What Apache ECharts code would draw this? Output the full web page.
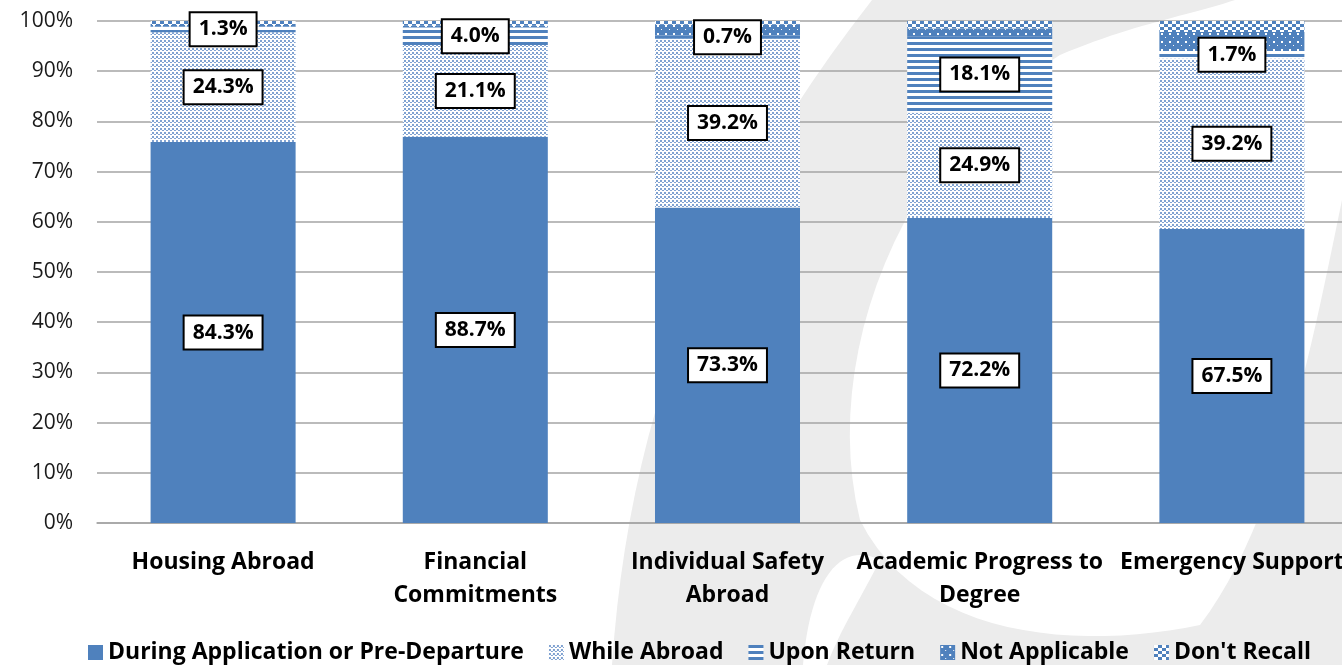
<!DOCTYPE html>
<html>
<head>
<meta charset="utf-8">
<script src="https://cdn.jsdelivr.net/npm/echarts@6/dist/echarts.min.js"></script>
<style>
  html, body { margin: 0; padding: 0; background: #fff; }
  #chart { width: 1342px; height: 665px; }
</style>
</head>
<body>
<div id="chart"></div>
<script>
// values are % of respondents (multiple answers allowed), bars are drawn as 100% stacks
const categories    = ['Housing Abroad', 'Financial\nCommitments', 'Individual Safety\nAbroad', 'Academic Progress to\nDegree', 'Emergency Support']
const seriesNames   = ['During Application or Pre-Departure', 'While Abroad', 'Upon Return', 'Not Applicable', "Don't Recall"]
const duringApp     = [84.3, 88.7, 73.3, 72.2, 67.5]
const whileAbroad   = [24.3, 21.1, 39.2, 24.9, 39.2]
const uponReturn    = [1.3, 4.0, 0.7, 18.1, 1.7]
const notApplicable = [0.3, 0.4, 2.5, 1.8, 4.4]
const dontRecall    = [0.9, 1.1, 0.9, 1.8, 2.5]
const labelled      = [true, true, true, false, false]

const BLUE = '#4f81bd'
const FONT = '"Open Sans", "DejaVu Sans", sans-serif'

function tile(w, h, draw) {
  const c = document.createElement('canvas')
  c.width = w
  c.height = h
  const ctx = c.getContext('2d')
  draw(ctx)
  return { image: c, repeat: 'repeat' }
}

const fills = [
  BLUE,
  // small dots
  tile(4, 4, (ctx) => {
    ctx.fillStyle = '#fff'; ctx.fillRect(0, 0, 4, 4)
    ctx.fillStyle = '#80a2d1'
    ctx.fillRect(0, 0, 2, 2)
    ctx.fillRect(2, 2, 2, 1)
  }),
  // horizontal stripes
  tile(6, 6, (ctx) => {
    ctx.fillStyle = '#fff'; ctx.fillRect(0, 0, 6, 6)
    ctx.fillStyle = BLUE; ctx.fillRect(0, 0, 6, 3)
  }),
  // blue with sparse white dots
  tile(8, 8, (ctx) => {
    ctx.fillStyle = BLUE; ctx.fillRect(0, 0, 8, 8)
    ctx.fillStyle = '#fff'
    ctx.fillRect(1, 1, 2, 2)
    ctx.fillRect(5, 5, 1, 1)
  }),
  // checks
  tile(8, 6, (ctx) => {
    ctx.fillStyle = BLUE; ctx.fillRect(0, 0, 8, 6)
    ctx.fillStyle = '#fff'
    ctx.fillRect(0, 0, 4, 3)
    ctx.fillRect(4, 3, 4, 3)
  }),
]

// background watermark outline, sampled from cubic curves
function curve(p0, p1, p2, p3, n = 24) {
  const pts = []
  for (let i = 0; i <= n; i++) {
    const t = i / n, u = 1 - t
    pts.push([
      u*u*u*p0[0] + 3*u*u*t*p1[0] + 3*u*t*t*p2[0] + t*t*t*p3[0],
      u*u*u*p0[1] + 3*u*u*t*p1[1] + 3*u*t*t*p2[1] + t*t*t*p3[1],
    ])
  }
  return pts
}
const markGray = [...curve([612, 665], [628, 430], [700, 220], [872, 0]), [1342, 0], [1342, 665]]
const markHole = [
  [1235, 0], [1342, 0], [1342, 200],
  ...curve([1342, 200], [1315, 330], [1280, 520], [1200, 625]),
  ...curve([1200, 625], [1080, 650], [920, 640], [860, 520]),
  ...curve([860, 520], [820, 360], [900, 150], [1060, 55]),
  ...curve([1060, 55], [1130, 25], [1190, 15], [1235, 0]),
]
const markGap = [
  ...curve([803, 665], [810, 580], [840, 540], [880, 560]),
  ...curve([880, 560], [860, 600], [840, 630], [827, 665]),
]

const raw = [duringApp, whileAbroad, uponReturn, notApplicable, dontRecall]
const totals = categories.map((_, i) => raw.reduce((s, arr) => s + arr[i], 0))

const series = raw.map((arr, k) => ({
  name: seriesNames[k],
  type: 'bar',
  stack: 'all',
  barWidth: '57.5%',
  itemStyle: { color: fills[k] },
  label: {
    show: labelled[k],
    position: 'inside',
    formatter: (p) => arr[p.dataIndex].toFixed(1) + '%',
    backgroundColor: '#fff',
    borderColor: '#000',
    borderWidth: 2,
    padding: [6, 8, 5, 8],
    color: '#000',
    fontFamily: FONT,
    fontWeight: 'bold',
    fontSize: 21,
  },
  data: arr.map((v, i) => v / totals[i] * 100),
}))

const chart = echarts.init(document.getElementById('chart'))
chart.setOption({
  animation: false,
  textStyle: { fontFamily: FONT },
  graphic: [
    { type: 'polygon', z: -100, silent: true, shape: { points: markGray }, style: { fill: '#ececec' } },
    { type: 'polygon', z: -99, silent: true, shape: { points: markHole }, style: { fill: '#fff' } },
    { type: 'polygon', z: -99, silent: true, shape: { points: markGap }, style: { fill: '#fff' } },
  ],
  grid: { left: 97, top: 21, width: 1261, bottom: 142, containLabel: false, outerBoundsMode: 'none' },
  legend: {
    left: 88,
    top: 641,
    padding: 0,
    itemWidth: 15,
    itemHeight: 15,
    itemGap: 25,
    icon: 'rect',
    textStyle: { fontSize: 23, fontWeight: 'bold', color: '#000', fontFamily: FONT },
    data: seriesNames,
  },
  xAxis: {
    type: 'category',
    data: categories,
    axisLine: { lineStyle: { color: '#a5a5a5', width: 1.5 } },
    axisTick: { show: false },
    axisLabel: {
      interval: 0,
      margin: 23,
      fontSize: 23,
      fontWeight: 'bold',
      color: '#000',
      lineHeight: 33,
      fontFamily: FONT,
    },
  },
  yAxis: {
    type: 'value',
    min: 0,
    max: 100,
    interval: 10,
    axisLine: { show: false },
    axisTick: { show: false },
    splitLine: { lineStyle: { color: '#a5a5a5', width: 1.5 } },
    axisLabel: {
      formatter: '{value}%',
      margin: 24,
      fontSize: 21,
      color: '#1a1a1a',
      fontFamily: FONT,
    },
  },
  series,
})
</script>
</body>
</html>
